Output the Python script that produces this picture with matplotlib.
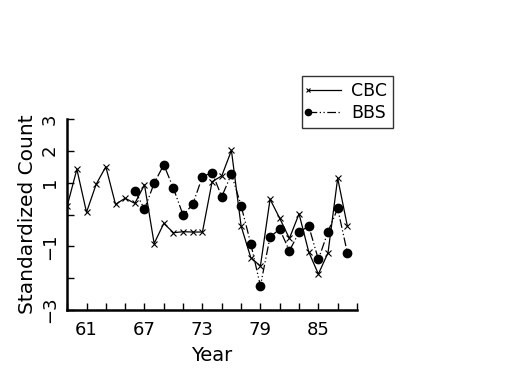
import matplotlib
matplotlib.use('Agg')
import matplotlib.pyplot as plt
from matplotlib.legend_handler import HandlerLine2D
from matplotlib.lines import Line2D

# CBC series (1959-1988)
cbc_years = list(range(59, 89))
cbc_vals = [0.27, 1.42, 0.07, 0.95, 1.50, 0.32, 0.51, 0.35, 0.93, -0.91,
            -0.28, -0.57, -0.54, -0.55, -0.55, 1.03, 1.21, 2.01, -0.36, -1.35,
            -1.62, 0.48, -0.12, -0.75, 0.02, -1.17, -1.87, -1.20, 1.14, -0.36]

# BBS series (1966-1988)
bbs_years = list(range(66, 89))
bbs_vals = [0.75, 0.17, 0.98, 1.56, 0.82, -0.02, 0.32, 1.19, 1.31, 0.56,
            1.27, 0.28, -0.91, -2.24, -0.70, -0.46, -1.14, -0.56, -0.36, -1.41,
            -0.54, 0.19, -1.20]

x_ticks = list(range(59, 90, 2))
x_labels = ['61', '67', '73', '79', '85']
y_ticks = [-3, -2, -1, 0, 1, 2, 3]
y_labels = {3: '3', 2: '2', 1: '1', -1: '\u22121', -3: '\u22123'}


class LeftMarker(HandlerLine2D):
    # put the legend marker at the start of the line
    def create_artists(self, *args, **kwargs):
        arts = super().create_artists(*args, **kwargs)
        for a in arts:
            a.set_markevery([0])
        return arts


def main():
    plt.rcParams['font.family'] = 'DejaVu Sans'
    fig = plt.figure(figsize=(5.25, 3.75), dpi=100)
    ax = fig.add_axes([0.128, 0.173, 0.552, 0.510])

    ax.plot(cbc_years, cbc_vals, color='black', lw=0.9, marker='x', ms=4,
            mew=0.8, label='CBC')
    ax.plot(bbs_years, bbs_vals, color='black', lw=0.9,
            ls=(0, (7, 2, 1, 2, 1, 2)), marker='o', ms=6, label='BBS')

    ax.set_xlim(59, 89)
    ax.set_ylim(-3, 3)
    ax.set_xticks(x_ticks)
    ax.set_xticklabels([str(t) if str(t) in x_labels else '' for t in x_ticks])
    ax.set_yticks(y_ticks)
    ax.set_yticklabels([y_labels.get(t, '') for t in y_ticks], rotation=90,
                       va='center')

    for s in ['top', 'right']:
        ax.spines[s].set_visible(False)
    for s in ['left', 'bottom']:
        ax.spines[s].set_linewidth(1.8)
    ax.tick_params(direction='in', length=5, width=1, labelsize=13, pad=8)
    ax.tick_params(axis='y', pad=6)

    ax.set_xlabel('Year', fontsize=14, labelpad=5)
    ax.set_ylabel('Standardized Count', fontsize=14.5, labelpad=3)

    leg = ax.legend(loc='upper left', bbox_to_anchor=(0.78, 1.27),
                    fontsize=12.5, numpoints=1, handlelength=1.9,
                    handletextpad=0.6, borderpad=0.35, labelspacing=0.25,
                    markerscale=0.75, fancybox=False, frameon=True,
                    handler_map={Line2D: LeftMarker()})
    leg.get_frame().set_edgecolor('black')
    leg.get_frame().set_linewidth(1.0)

    fig.savefig('out.png', dpi=100)


if __name__ == '__main__':
    main()
